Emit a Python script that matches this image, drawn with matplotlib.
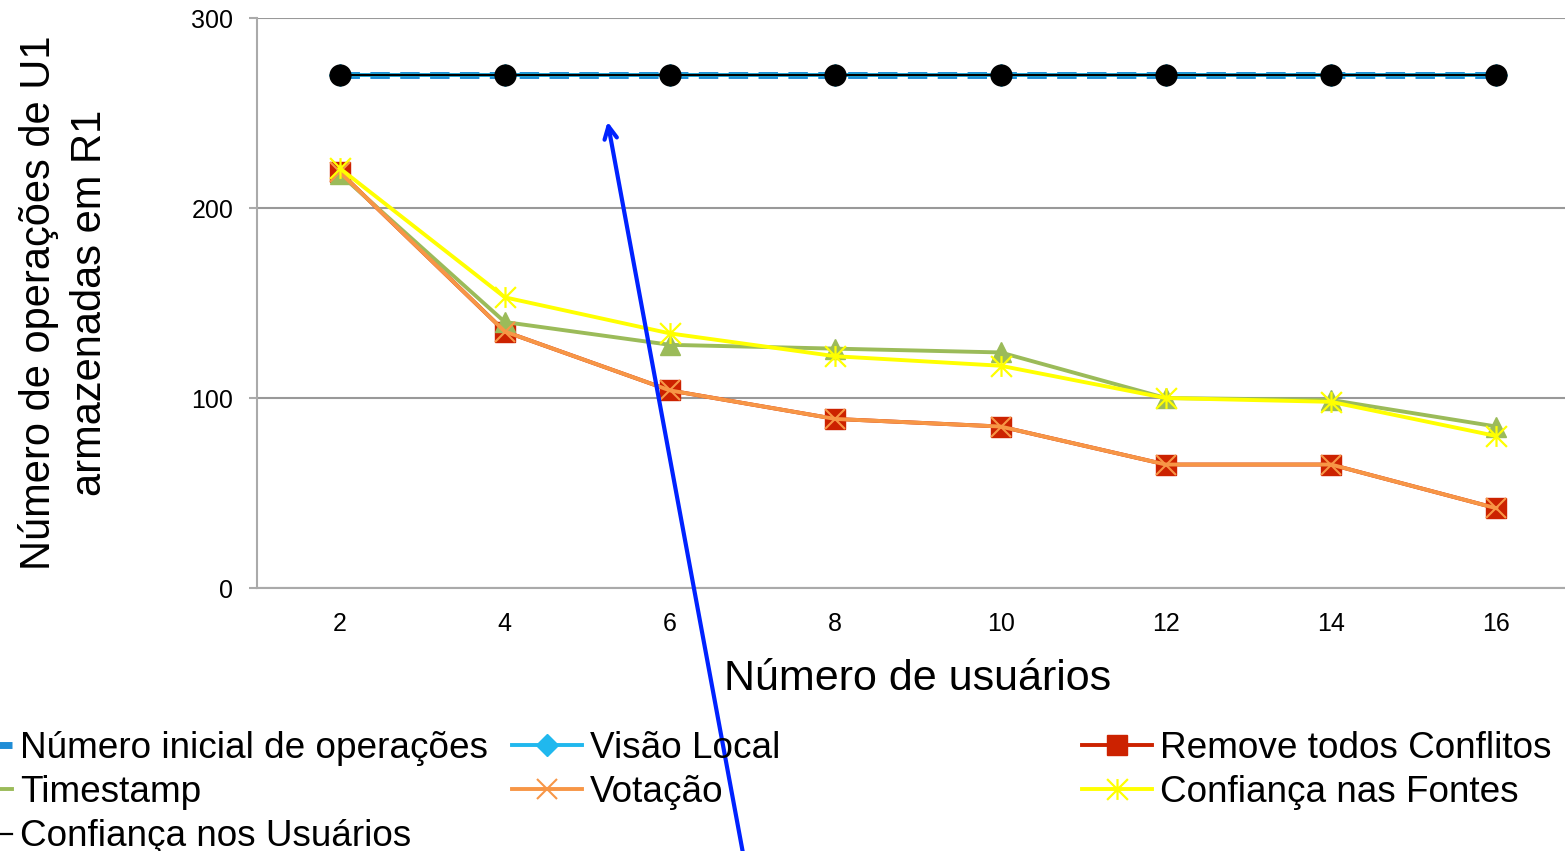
import matplotlib
matplotlib.use("Agg")
import matplotlib.pyplot as plt
from matplotlib.path import Path

plt.rcParams['font.family'] = ['Liberation Sans', 'DejaVu Sans']

usuarios = [2, 4, 6, 8, 10, 12, 14, 16]
inicial = [270, 270, 270, 270, 270, 270, 270, 270]
visao_local = [270, 270, 270, 270, 270, 270, 270, 270]
remove_todos = [219, 135, 104, 89, 85, 65, 65, 42]
timestamp = [218, 140, 128, 126, 124, 100, 99, 85]
votacao = [219, 135, 104, 89, 85, 65, 65, 42]
conf_fontes = [221, 153, 134, 122, 117, 100, 98, 80]
conf_usuarios = [270, 270, 270, 270, 270, 270, 270, 270]

# excel-like "star": an x with a vertical bar
star = Path([(0, -1), (0, 1), (-1, -1), (1, 1), (-1, 1), (1, -1)],
            [Path.MOVETO, Path.LINETO, Path.MOVETO, Path.LINETO, Path.MOVETO, Path.LINETO])

fig = plt.figure(figsize=(15.65, 8.51), dpi=100)
ax = fig.add_axes([0.1642, 0.3090, 0.8447, 0.6698])

h1, = ax.plot(usuarios, inicial, color='#1f8dd6', lw=5, ls=(0, (2.8, 1.5)))
h2, = ax.plot(usuarios, visao_local, color='#20b8ee', lw=2.8, marker='D', ms=11)
h3, = ax.plot(usuarios, remove_todos, color='#cc2200', lw=2.8, marker='s', ms=14)
h4, = ax.plot(usuarios, timestamp, color='#9bbb59', lw=2.8, marker='^', ms=15)
h5, = ax.plot(usuarios, votacao, color='#f79646', lw=2.8, marker='x', ms=14, mew=1.5)
h6, = ax.plot(usuarios, conf_fontes, color='#ffff00', lw=2.8, marker=star, ms=15, mew=1.6)
h7, = ax.plot(usuarios, conf_usuarios, color='black', lw=1.6, marker='o', ms=15)

ax.set_xlim(1, 17)
ax.set_ylim(0, 300)
ax.set_xticks(usuarios)
ax.set_yticks([0, 100, 200, 300])
ax.grid(axis='y', color='#999999', lw=1.5)
ax.set_axisbelow(True)
for s in ['top', 'right']:
    ax.spines[s].set_visible(False)
for s in ['left', 'bottom']:
    ax.spines[s].set_color('#aaaaaa')
    ax.spines[s].set_linewidth(1.5)
ax.tick_params(axis='x', length=0, pad=17, labelsize=18)
ax.tick_params(axis='y', length=6, width=1.5, color='#aaaaaa', pad=11, labelsize=18)

ax.set_xlabel('Número de usuários', fontsize=31, labelpad=17)
ax.set_ylabel('Número de operações de U1\narmazenadas em R1', fontsize=30,
              linespacing=1.35)
ax.yaxis.set_label_coords(-0.111, 0.5)

leg_kw = dict(frameon=False, fontsize=26.6, loc='upper left', borderpad=0,
              borderaxespad=0, handlelength=1.9, handletextpad=0.2,
              labelspacing=0.25)
fig.legend([h1, h4, h7], ['Número inicial de operações', 'Timestamp',
                          'Confiança nos Usuários'],
           bbox_to_anchor=(-0.037, 0.141), **leg_kw)
fig.legend([h2, h5], ['Visão Local', 'Votação'],
           bbox_to_anchor=(0.3272, 0.141), **leg_kw)
fig.legend([h3, h6], ['Remove todos Conflitos', 'Confiança nas Fontes'],
           bbox_to_anchor=(0.6914, 0.141), **leg_kw)

# blue pointer arrow drawn over the slide
ax.annotate('', xy=(0.3879, 0.8602), xycoords='figure fraction',
            xytext=(0.4765, -0.02), textcoords='figure fraction',
            arrowprops=dict(arrowstyle='->,head_length=0.9,head_width=0.45',
                            color='#0022ff', lw=3), annotation_clip=False)

fig.savefig('out.png', dpi=100)
